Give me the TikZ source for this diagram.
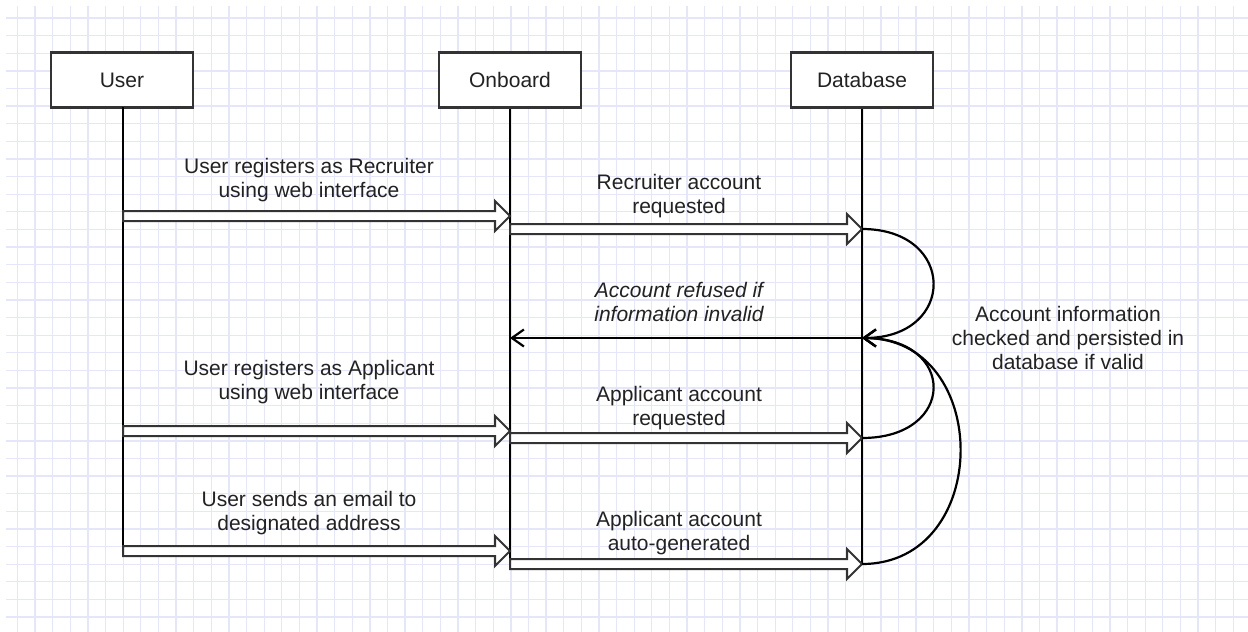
\documentclass[tikz,border=0pt]{standalone}
\usepackage{fontspec}
\setmainfont{Liberation Sans}
\usetikzlibrary{arrows.meta,calc}
\definecolor{gridc}{HTML}{E6E6FA}
\definecolor{boxc}{HTML}{333333}
\definecolor{txt}{HTML}{222222}
\tikzset{
  lane/.style={draw=boxc, line width=2.5pt, fill=white, minimum width=142pt, minimum height=55pt, inner sep=0pt, text=txt, font=\fontsize{21}{24}\selectfont},
  life/.style={line width=2.2pt, black},
  lbl/.style={align=center, text=txt, font=\fontsize{21}{24}\selectfont, inner sep=0pt},
  hollow/.style={draw=boxc, line width=2pt, fill=white, line join=miter,
    to path={let \p1=(\tikztostart), \p2=(\tikztotarget) in
      (\x1,\y1+5pt) -- (\x2-15pt,\y1+5pt) -- (\x2-15pt,\y1+15pt) -- (\x2,\y1)
      -- (\x2-15pt,\y1-15pt) -- (\x2-15pt,\y1-5pt) -- (\x1,\y1-5pt) -- cycle}},
  msg/.style={line width=2.2pt, black, -{Straight Barb[length=12pt,width=17pt,line width=2.2pt]}}
}
\begin{document}
\begin{tikzpicture}[x=1pt,y=-1pt]
\useasboundingbox (0,0) rectangle (1248,632);
\fill[white] (0,0) rectangle (1248,632);
% grid
\foreach \i in {0,...,70} {
  \draw[gridc, line width=1.3pt] ({17.5+17.62*\i},6) -- ({17.5+17.62*\i},632);
}
\foreach \j in {0,...,35} {
  \draw[gridc, line width=1.3pt] (6,{18+17.62*\j}) -- (1248,{18+17.62*\j});
}
% participants
\node[lane] (user) at (122,80) {User};
\node[lane] (onb) at (510,80) {Onboard};
\node[lane] (db) at (862,80) {Database};
% lifeline ends
\coordinate (ustart) at (123,107);
\coordinate (uend) at (123,551);
\coordinate (oend) at (510,568);
\coordinate (dend) at (862,565);
\draw[life] (ustart) -- (uend);
\draw[life] (onb.south) -- (oend);
\draw[life] (db.south) -- (dend);
% message points
\coordinate (u1) at (123,216);
\coordinate (o1) at (510,216);
\coordinate (o2) at (510,229);
\coordinate (d2) at (862,229);
\coordinate (d3) at (862,338);
\coordinate (o3) at (510,338);
\coordinate (u4) at (123,431);
\coordinate (o4) at (510,431);
\coordinate (o5) at (510,438);
\coordinate (d5) at (862,438);
\coordinate (u6) at (123,551);
\coordinate (o6) at (510,551);
\coordinate (o7) at (510,564);
\coordinate (d7) at (862,564);
% hollow arrows
\draw[hollow] (u1) to (o1);
\draw[hollow] (o2) to (d2);
\draw[hollow] (u4) to (o4);
\draw[hollow] (o5) to (d5);
\draw[hollow] (u6) to (o6);
\draw[hollow] (o7) to (d7);
% refusal
\draw[msg] (d3) -- (o3);
% self curves
\draw[msg] (d2) .. controls (957,229) and (957,338) .. (d3);
\draw[msg] (d5) .. controls (957,438) and (957,338) .. (d3);
\draw[msg] (d7) .. controls (993,564) and (993,338) .. (d3);
% labels
\node[lbl] (l1) at (309,180) {User registers as Recruiter\\using web interface};
\node[lbl] (l2) at (679,196) {Recruiter account\\requested};
\node[lbl, font=\fontsize{21}{24}\selectfont\itshape] (l3) at (679,302) {Account refused if\\information invalid};
\node[lbl] (l4) at (1068,338) {Account information\\checked and persisted in\\database if valid};
\node[lbl] (l5) at (309,382) {User registers as Applicant\\using web interface};
\node[lbl] (l6) at (679,408) {Applicant account\\requested};
\node[lbl] (l7) at (309,513) {User sends an email to\\designated address};
\node[lbl] (l8) at (679,533) {Applicant account\\auto-generated};
\end{tikzpicture}
\end{document}
